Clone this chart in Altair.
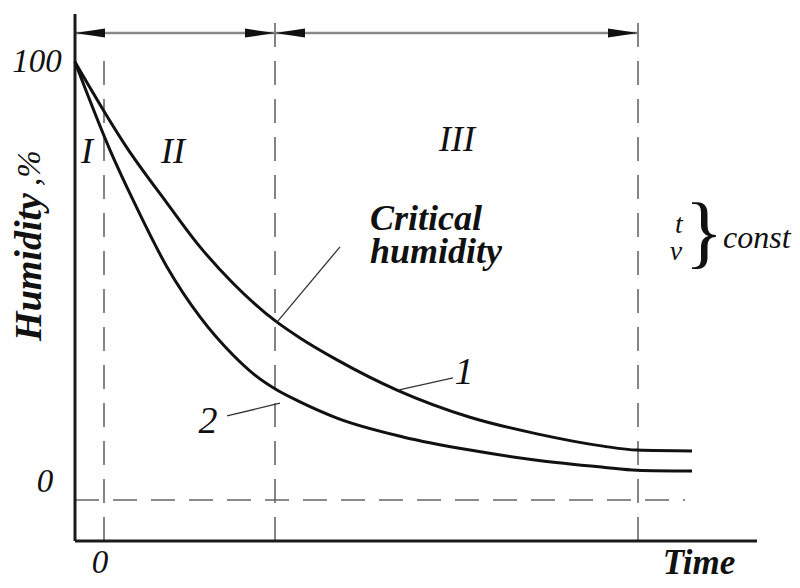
import altair as alt
import pandas as pd

# ---- data (time in arbitrary units, humidity in %) ----
curve1_time = [-2.9, 2.3, 6.3, 9.6, 12.9, 17.3, 19.6, 23.3, 29.3, 36.6, 43.3, 49.9, 53.3, 58.8]
curve1_humidity = [100, 80.4, 67.8, 57.8, 49.5, 40.6, 37.0, 32.0, 25.1, 18.9, 15.1, 12.3, 11.4, 11.2]
curve2_time = [-2.9, 0.6, 2.9, 6.3, 9.6, 12.9, 15.1, 17.3, 19.6, 23.3, 29.9, 36.6, 43.3, 49.9, 53.3, 58.8]
curve2_humidity = [100, 79.9, 68.5, 53.2, 41.8, 33.1, 28.5, 25.1, 22.4, 18.7, 14.4, 11.4, 9.1, 7.5, 6.8, 6.6]

x_min, x_max = -2.9, 65.3
y_min, y_max = -9.36, 110.96
stage_bounds = [0, 17.1, 53.4]
stage_names = ["I", "II", "III"]
stage_label_x = [-1.7, 6.9, 35.3]
stage_label_y = [79.5, 79.5, 82.2]
arrow_y = 106.6

xs = alt.Scale(domain=[x_min, x_max], nice=False, zero=False)
ys = alt.Scale(domain=[y_min, y_max], nice=False, zero=False)
X = lambda f="x": alt.X(f"{f}:Q", scale=xs, axis=None)
Y = lambda f="y": alt.Y(f"{f}:Q", scale=ys, axis=None)

curves = pd.DataFrame({
    "x": curve1_time + curve2_time,
    "y": curve1_humidity + curve2_humidity,
    "s": ["1"] * len(curve1_time) + ["2"] * len(curve2_time),
})

axes_df = pd.DataFrame({
    "x": [x_min, x_min], "x2": [x_min, x_max],
    "y": [y_min, y_min], "y2": [y_max, y_min],
})
dash_df = pd.DataFrame({
    "x": [x_min, stage_bounds[0], stage_bounds[1], stage_bounds[2]],
    "x2": [58.1, stage_bounds[0], stage_bounds[1], stage_bounds[2]],
    "y": [0, y_min, y_min, y_min],
    "y2": [0, 100.5, 110.7, 110.7],
})
arrow_line_df = pd.DataFrame({"x": [x_min], "x2": [stage_bounds[2]], "y": [arrow_y]})
arrow_right_df = pd.DataFrame({"x": [stage_bounds[1], stage_bounds[2]], "y": [arrow_y] * 2})
arrow_left_df = pd.DataFrame({"x": [x_min, stage_bounds[1]], "y": [arrow_y] * 2})

leader_df = pd.DataFrame({
    "x": [17.3, 29.4, 12.3], "x2": [23.6, 34.9, 17.6],
    "y": [40.6, 25.1, 19.2], "y2": [57.8, 27.9, 22.1],
})

FONT = "Liberation Serif"

axes = alt.Chart(axes_df).mark_rule(color="#1a1a1a", strokeWidth=3).encode(
    x=X(), x2="x2:Q", y=Y(), y2="y2:Q")
dashes = alt.Chart(dash_df).mark_rule(color="#666", strokeWidth=1.6, strokeDash=[24, 14]).encode(
    x=X(), x2="x2:Q", y=Y(), y2="y2:Q")
arrow_line = alt.Chart(arrow_line_df).mark_rule(color="#888", strokeWidth=2.5).encode(
    x=X(), x2="x2:Q", y=Y())
arrow_r = alt.Chart(arrow_right_df).mark_point(
    shape="M0,0L-2,-0.3L-2,0.3Z", size=900, filled=True, color="#111", opacity=1, strokeWidth=0
).encode(x=X(), y=Y())
arrow_l = alt.Chart(arrow_left_df).mark_point(
    shape="M0,0L2,-0.3L2,0.3Z", size=900, filled=True, color="#111", opacity=1, strokeWidth=0
).encode(x=X(), y=Y())

lines = alt.Chart(curves).mark_line(color="#111", strokeWidth=3, interpolate="monotone").encode(
    x=X(), y=Y(), detail="s:N")
leaders = alt.Chart(leader_df).mark_rule(color="#333", strokeWidth=1.3).encode(
    x=X(), x2="x2:Q", y=Y(), y2="y2:Q")


def txt(df, size, style="italic", weight="normal", align="center", baseline="middle", angle=0):
    return alt.Chart(df).mark_text(
        font=FONT, fontSize=size, fontStyle=style, fontWeight=weight,
        align=align, baseline=baseline, angle=angle, color="#111"
    ).encode(x=X(), y=Y(), text="t:N")


tick_df = pd.DataFrame({"x": [-6.7, -5.9, -0.4], "y": [100, 4.1, -14.4], "t": ["100", "0", "0"]})
stage_df = pd.DataFrame({"x": stage_label_x, "y": stage_label_y, "t": stage_names})
crit_df = pd.DataFrame({"x": [26.6, 26.6], "y": [61.6, 54.1], "t": ["Critical", "humidity"]})
time_df = pd.DataFrame({"x": [59.5], "y": [-16.9], "t": ["Time"]})
ytitle_df = pd.DataFrame({"x": [-7.4], "y": [53.2], "t": ["Humidity"]})
yunit_df = pd.DataFrame({"x": [-7.4], "y": [75.8], "t": [",%"]})
num_df = pd.DataFrame({"x": [36.0, 10.4], "y": [29.0, 17.8], "t": ["1", "2"]})
tv_df = pd.DataFrame({"x": [57.5, 57.2], "y": [62.8, 56.6], "t": ["t", "v"]})
brace_df = pd.DataFrame({"x": [60.0], "y": [60.7], "t": ["}"]})
const_df = pd.DataFrame({"x": [61.9], "y": [59.8], "t": ["const"]})

texts = [
    txt(tick_df, 33),
    txt(stage_df, 36),
    txt(crit_df, 36, weight="bold", align="left", baseline="alphabetic"),
    txt(time_df, 35, weight="bold", baseline="alphabetic"),
    txt(ytitle_df, 38, weight="bold", angle=270),
    txt(yunit_df, 33, angle=270),
    txt(num_df, 38),
    txt(tv_df, 28),
    txt(brace_df, 80, style="normal"),
    txt(const_df, 32, align="left"),
]

chart = alt.layer(dashes, arrow_line, arrow_r, arrow_l, axes, lines, leaders, *texts).properties(
    width=682, height=527,
    autosize=alt.AutoSizeParams(type="none"),
    padding={"left": 67, "top": 6, "right": 35, "bottom": 39},
).configure_view(stroke=None)

chart.save("out.html", embed_options={"renderer": "svg", "actions": False})
